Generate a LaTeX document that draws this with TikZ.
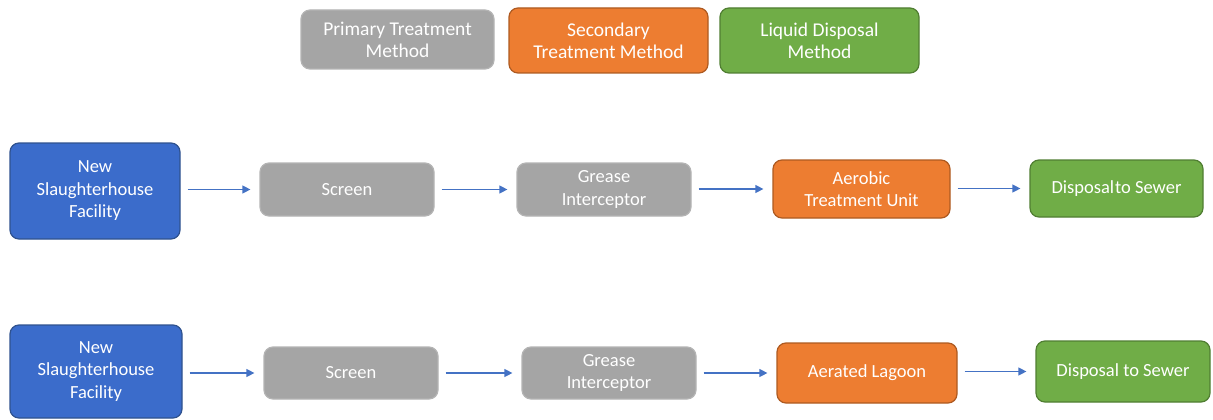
\documentclass[tikz,border=0pt]{standalone}
\usepackage{fontspec}
\setmainfont{Carlito}
\usetikzlibrary{arrows.meta}
\definecolor{fblue}{HTML}{3B6CCB}
\definecolor{dblue}{HTML}{2F528F}
\definecolor{fgray}{HTML}{A5A5A5}
\definecolor{dgray}{HTML}{B4B4B4}
\definecolor{forange}{HTML}{ED7D31}
\definecolor{dorange}{HTML}{AE5A21}
\definecolor{fgreen}{HTML}{70AD47}
\definecolor{dgreen}{HTML}{507E32}
\definecolor{arrowblue}{HTML}{4472C4}
\begin{document}
\begin{tikzpicture}[x=1pt,y=-1pt,
  box/.style={rounded corners=9pt,line width=1.2pt,text=white,align=center,
    font=\fontsize{18.5}{22.5}\selectfont,inner sep=2pt},
  sourcebox/.style={box,fill=fblue,draw=dblue},
  primbox/.style={box,fill=fgray,draw=dgray},
  secbox/.style={box,fill=forange,draw=dorange},
  dispbox/.style={box,fill=fgreen,draw=dgreen},
  legend/.style={font=\fontsize{19.5}{22}\selectfont},
  flow/.style={draw=arrowblue,line width=1.2pt,shorten <=7pt,shorten >=9pt,
    -{Triangle[length=8pt,width=8pt]}}]
\useasboundingbox (0,0) rectangle (1213,420);

% legend
\node[primbox,legend,minimum width=193pt,minimum height=59pt] (lp) at (397.5,39.5) {Primary Treatment\\Method};
\node[secbox,legend,minimum width=199pt,minimum height=65pt] (ls) at (608.5,40.5) {Secondary\\Treatment Method};
\node[dispbox,legend,minimum width=199pt,minimum height=65pt] (ld) at (819.5,40.5) {Liquid Disposal\\Method};

% first process line
\node[sourcebox,minimum width=170pt,minimum height=96pt] (s1) at (95,191) {New\\Slaughterhouse\\Facility};
\node[primbox,minimum width=174pt,minimum height=53pt] (sc1) at (347,189.5) {Screen};
\node[primbox,minimum width=174pt,minimum height=53pt] (g1) at (604,189.5) {Grease\\Interceptor};
\node[secbox,minimum width=177pt,minimum height=58pt] (a1) at (861.5,189) {Aerobic\\Treatment Unit};
\node[dispbox,minimum width=173pt,minimum height=57pt] (d1) at (1116.5,188.5) {Disposal\hspace{1pt}to Sewer};

% second process line
\node[sourcebox,minimum width=172pt,minimum height=93pt] (s2) at (96,371.5) {New\\Slaughterhouse\\Facility};
\node[primbox,minimum width=174pt,minimum height=52pt] (sc2) at (351,373) {Screen};
\node[primbox,minimum width=174pt,minimum height=52pt] (g2) at (609,373) {Grease\\Interceptor};
\node[secbox,minimum width=180pt,minimum height=60pt] (a2) at (867,373) {Aerated Lagoon};
\node[dispbox,minimum width=174pt,minimum height=61pt] (d2) at (1123,371.5) {Disposal to Sewer};

% connectors
\foreach \a/\b in {s1/sc1,sc1/g1,g1/a1,a1/d1,s2/sc2,sc2/g2,g2/a2,a2/d2}
  \draw[flow] (\b.west -| \a.east) -- (\b.west);
\end{tikzpicture}
\end{document}
